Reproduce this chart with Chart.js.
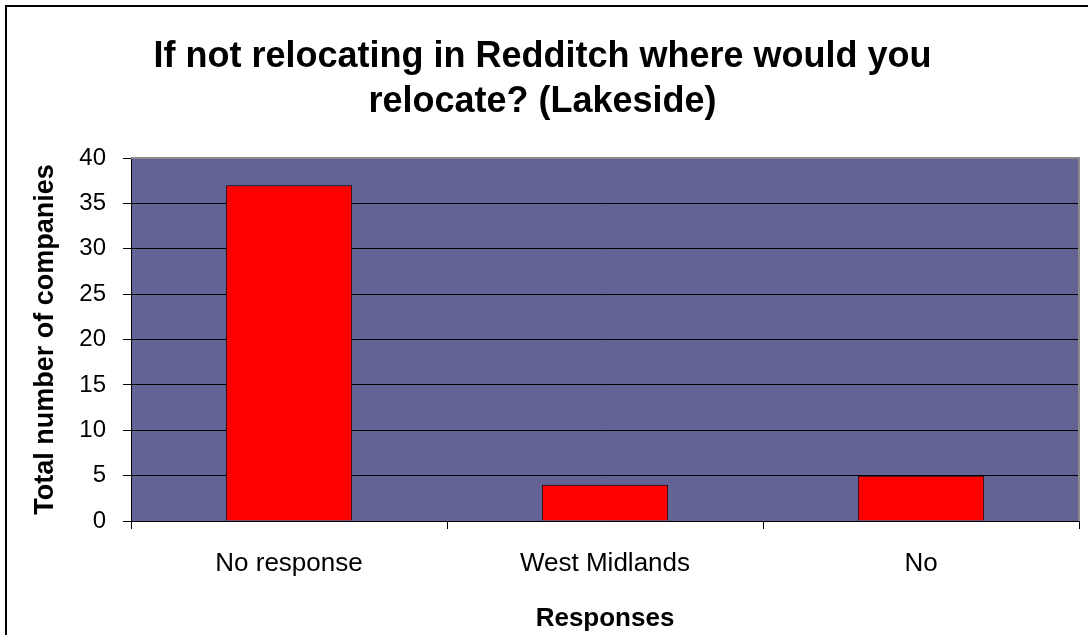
<!DOCTYPE html>
<html>
<head>
<meta charset="utf-8">
<script src="https://cdn.jsdelivr.net/npm/chart.js@4/dist/chart.umd.min.js"></script>
<style>
  html, body { margin: 0; padding: 0; background: #fff; overflow: hidden; }
  #wrap { width: 1088px; height: 635px; position: relative; }
</style>
</head>
<body>
<div id="wrap"><canvas id="relocChart" width="1088" height="635"></canvas></div>
<script>
const categories = ['No response', 'West Midlands', 'No'];
const companyCounts = [37, 4, 5];
const yTicks = { min: 0, max: 40, step: 5 };

const chartTitle = ['If not relocating in Redditch where would you', 'relocate? (Lakeside)'];
const xTitle = 'Responses';
const yTitle = 'Total number of companies';

const fontFamily = '"Liberation Sans", Arial, sans-serif';

// plot background, grey top/right edge and the outer frame
const framePlugin = {
    id: 'framePlugin',
    beforeDraw(chart) {
        const ctx = chart.ctx;
        const a = chart.chartArea;
        ctx.save();
        ctx.fillStyle = '#ffffff';
        ctx.fillRect(0, 0, chart.width, chart.height);
        ctx.fillStyle = '#636396';
        ctx.fillRect(a.left, a.top, a.right - a.left, a.bottom - a.top);
        ctx.restore();
    },
    afterDraw(chart) {
        const ctx = chart.ctx;
        const a = chart.chartArea;
        ctx.save();
        ctx.strokeStyle = '#8a8a8a';
        ctx.lineWidth = 2;
        ctx.beginPath();
        ctx.moveTo(a.left, a.top);
        ctx.lineTo(a.right, a.top);
        ctx.lineTo(a.right, a.bottom);
        ctx.stroke();
        ctx.strokeStyle = '#000000';
        ctx.beginPath();
        ctx.moveTo(6, chart.height + 2);
        ctx.lineTo(6, 6);
        ctx.lineTo(chart.width + 2, 6);
        ctx.stroke();
        ctx.restore();
    }
};

new Chart(document.getElementById('relocChart'), {
    type: 'bar',
    data: {
        labels: categories,
        datasets: [{
            data: companyCounts,
            backgroundColor: '#ff0000',
            borderColor: '#000000',
            borderWidth: 1,
            barPercentage: 0.4,
            categoryPercentage: 1.0
        }]
    },
    options: {
        responsive: false,
        animation: false,
        layout: { padding: { left: 6, right: 9, top: 0, bottom: 0 } },
        plugins: {
            legend: { display: false },
            tooltip: { enabled: false },
            title: {
                display: true,
                text: chartTitle,
                color: '#000',
                font: { family: fontFamily, size: 36, weight: 'bold', lineHeight: 45 / 36 },
                padding: { top: 35, bottom: 33 }
            }
        },
        scales: {
            x: {
                offset: true,
                grid: {
                    offset: true,
                    drawOnChartArea: false,
                    drawTicks: true,
                    tickLength: 8,
                    color: '#000'
                },
                border: { display: true, color: '#000', width: 1 },
                ticks: {
                    color: '#000',
                    padding: 19,
                    maxRotation: 0,
                    font: { family: fontFamily, size: 26 }
                },
                title: {
                    display: true,
                    text: xTitle,
                    color: '#000',
                    font: { family: fontFamily, size: 26, weight: 'bold' },
                    padding: { top: 0, bottom: 1 }
                },
                afterFit(scale) { scale.height = 114; }
            },
            y: {
                min: yTicks.min,
                max: yTicks.max,
                grid: {
                    color: '#000',
                    lineWidth: 1,
                    drawTicks: true,
                    tickLength: 8
                },
                border: { display: true, color: '#000', width: 1 },
                ticks: {
                    stepSize: yTicks.step,
                    color: '#000',
                    padding: 17,
                    font: { family: fontFamily, size: 24 }
                },
                title: {
                    display: true,
                    text: yTitle,
                    color: '#000',
                    font: { family: fontFamily, size: 27, weight: 'bold' },
                    padding: { top: 23, bottom: 0 }
                },
                afterFit(scale) { scale.width = 125; }
            }
        }
    },
    plugins: [framePlugin]
});
</script>
</body>
</html>
